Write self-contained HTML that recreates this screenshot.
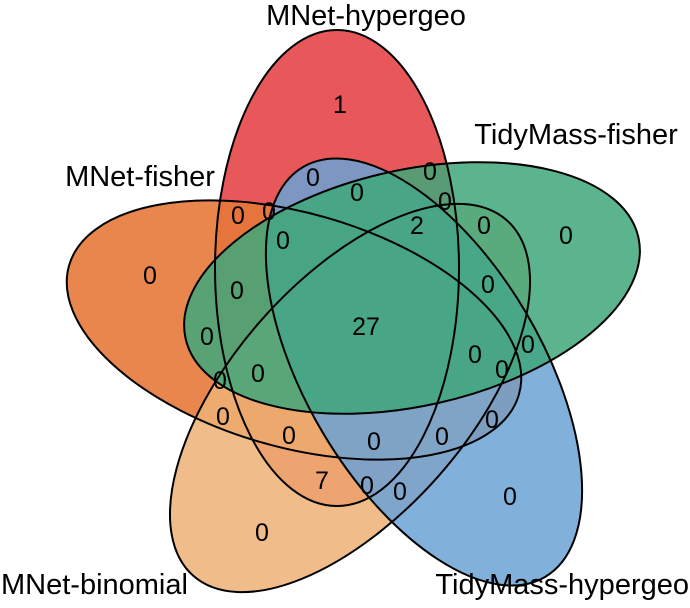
<!DOCTYPE html>
<html><head><meta charset="utf-8"><style>
html,body{margin:0;padding:0;background:#fff;overflow:hidden;}
svg{display:block;}
text{font-family:"Liberation Sans",Arial,sans-serif;fill:#000;}
</style></head><body>
<svg width="690" height="608" viewBox="0 0 690 608" xmlns="http://www.w3.org/2000/svg">
<g stroke="none">
<ellipse cx="337" cy="268" rx="122" ry="238" fill="#E8585A"/>
<ellipse cx="294" cy="330" rx="234" ry="117" transform="rotate(16 294 330)" fill="#E5793A" fill-opacity="0.9"/>
<ellipse cx="350" cy="398" rx="237" ry="118" transform="rotate(-48.6 350 398)" fill="#EDB276" fill-opacity="0.85"/>
<ellipse cx="424" cy="372" rx="238" ry="118" transform="rotate(59.4 424 372)" fill="#6BA2D5" fill-opacity="0.85"/>
<ellipse cx="412" cy="288" rx="232" ry="118" transform="rotate(-12.6 412 288)" fill="#3EA77A" fill-opacity="0.85"/>
</g>
<g fill="none" stroke="#000" stroke-width="2">
<ellipse cx="337" cy="268" rx="122" ry="238"/>
<ellipse cx="294" cy="330" rx="234" ry="117" transform="rotate(16 294 330)"/>
<ellipse cx="350" cy="398" rx="237" ry="118" transform="rotate(-48.6 350 398)"/>
<ellipse cx="424" cy="372" rx="238" ry="118" transform="rotate(59.4 424 372)"/>
<ellipse cx="412" cy="288" rx="232" ry="118" transform="rotate(-12.6 412 288)"/>
</g>
<g font-size="25" text-anchor="middle" dominant-baseline="central">
<text x="340" y="105">1</text>
<text x="313" y="178">0</text>
<text x="430" y="172">0</text>
<text x="357" y="193">0</text>
<text x="445" y="202">0</text>
<text x="417" y="226">2</text>
<text x="238" y="216">0</text>
<text x="269" y="212">0</text>
<text x="283" y="241">0</text>
<text x="484" y="226">0</text>
<text x="566" y="236">0</text>
<text x="150" y="276">0</text>
<text x="237" y="291">0</text>
<text x="488" y="285">0</text>
<text x="366" y="327">27</text>
<text x="207" y="337">0</text>
<text x="528" y="345">0</text>
<text x="258" y="374">0</text>
<text x="220" y="381">0</text>
<text x="475" y="355">0</text>
<text x="502" y="370">0</text>
<text x="223" y="417">0</text>
<text x="289" y="436">0</text>
<text x="374" y="442">0</text>
<text x="442" y="437">0</text>
<text x="492" y="420">0</text>
<text x="322" y="481">7</text>
<text x="367" y="486">0</text>
<text x="400" y="492">0</text>
<text x="510" y="497">0</text>
<text x="262" y="533">0</text>
</g>
<g font-size="29" dominant-baseline="central">
<text x="366" y="16" text-anchor="middle">MNet-hypergeo</text>
<text x="576" y="135" text-anchor="middle">TidyMass-fisher</text>
<text x="140" y="177" text-anchor="middle">MNet-fisher</text>
<text x="1" y="585" text-anchor="start">MNet-binomial</text>
<text x="689" y="585" text-anchor="end">TidyMass-hypergeo</text>
</g>
</svg>
</body></html>
